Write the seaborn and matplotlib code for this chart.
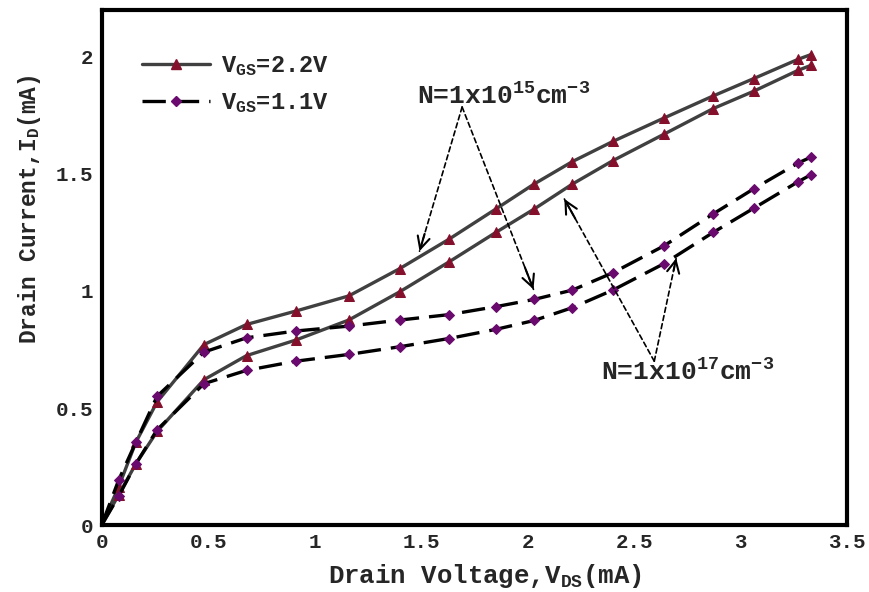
import numpy as np
import pandas as pd
import seaborn as sns
import matplotlib
matplotlib.use('Agg')
import matplotlib.pyplot as plt
from matplotlib.lines import Line2D

# drain voltage (V) sample points shared by all curves
vds = [0, 0.08, 0.16, 0.26, 0.48, 0.68, 0.91, 1.16, 1.40, 1.63, 1.85,
       2.03, 2.21, 2.40, 2.64, 2.87, 3.06, 3.27, 3.33]

# drain current (mA)
id_22_n15 = [0, 0.164, 0.353, 0.526, 0.771, 0.857, 0.914, 0.979, 1.096, 1.221,
             1.350, 1.457, 1.553, 1.639, 1.739, 1.833, 1.907, 1.990, 2.010]
id_22_n17 = [0, 0.130, 0.261, 0.400, 0.621, 0.724, 0.790, 0.876, 0.997, 1.124,
             1.250, 1.350, 1.457, 1.557, 1.670, 1.779, 1.853, 1.943, 1.964]
id_11_n15 = [0, 0.193, 0.353, 0.550, 0.739, 0.800, 0.829, 0.850, 0.876, 0.899,
             0.933, 0.964, 1.004, 1.078, 1.193, 1.329, 1.436, 1.547, 1.572]
id_11_n17 = [0, 0.124, 0.261, 0.407, 0.604, 0.661, 0.700, 0.729, 0.762, 0.797,
             0.836, 0.874, 0.929, 1.004, 1.117, 1.250, 1.353, 1.467, 1.497]

x_ticks = [0, 0.5, 1, 1.5, 2, 2.5, 3, 3.5]
x_ticklabels = ['0', '0.5', '1', '1.5', '2', '2.5', '3', '3.5']
y_ticks = [0, 0.5, 1, 1.5, 2]
y_ticklabels = ['0', '0.5', '1', '1.5', '2']

legend_labels = [r'V$_\mathregular{GS}$=2.2V', r'V$_\mathregular{GS}$=1.1V']

#--------------------------------------------------------------------------------------------------

def dashed_arrow(ax, head, tail):
    '''
    Dashed shaft from tail to head, with a solid open arrow head.
    '''
    ax.annotate('', xy=head, xytext=tail,
                arrowprops=dict(arrowstyle='-', linestyle=(0, (3, 2)), lw=1.2,
                                color='black', shrinkA=0, shrinkB=0))
    back = (head[0] + (tail[0] - head[0]) * 0.12, head[1] + (tail[1] - head[1]) * 0.12)
    ax.annotate('', xy=head, xytext=back,
                arrowprops=dict(arrowstyle='->', lw=1.5, color='black',
                                mutation_scale=22, shrinkA=0, shrinkB=0))

#--------------------------------------------------------------------------------------------------

sns.set_style('white')
plt.rcParams['font.family'] = ['Liberation Mono', 'DejaVu Sans']
plt.rcParams['font.weight'] = 'bold'
plt.rcParams['mathtext.fontset'] = 'custom'
plt.rcParams['mathtext.rm'] = 'Liberation Mono:bold'
plt.rcParams['mathtext.bf'] = 'Liberation Mono:bold'
plt.rcParams['mathtext.it'] = 'Liberation Mono:bold'
plt.rcParams['mathtext.default'] = 'regular'

fig = plt.figure(figsize=(8.69, 5.92), dpi=100)
ax = fig.add_axes([0.117, 0.113, 0.858, 0.870])

solid_col = '#404040'
tri_col = '#85102c'
dash_col = '#000000'
dia_col = '#6a0a6e'

for y in [id_22_n15, id_22_n17]:
    sns.lineplot(x=vds, y=y, ax=ax, color=solid_col, lw=2.4, marker='^',
                 markersize=6.5, markerfacecolor=tri_col, markeredgecolor=tri_col,
                 markevery=list(range(1, len(vds))), sort=False)

for y in [id_11_n15, id_11_n17]:
    sns.lineplot(x=vds, y=y, ax=ax, color=dash_col, lw=2.4, marker='D',
                 markersize=5.2, markerfacecolor=dia_col, markeredgecolor=dia_col,
                 markevery=list(range(1, len(vds))), dashes=False, sort=False)
    ax.lines[-1].set_dashes((7, 3))

ax.set_xlim(0, 3.5)
ax.set_ylim(0, 2.2)
ax.set_xticks(x_ticks)
ax.set_xticklabels(x_ticklabels)
ax.set_yticks(y_ticks)
ax.set_yticklabels(y_ticklabels)
ax.set_xticks(np.arange(0.25, 3.5, 0.5), minor=True)
ax.set_yticks(np.arange(0.25, 2.2, 0.5), minor=True)
ax.tick_params(axis='both', which='both', direction='in', top=False, right=False,
               labelsize=15, width=1.5, pad=6)
ax.tick_params(which='major', length=10)
ax.tick_params(which='minor', length=7)
for s in ax.spines.values():
    s.set_linewidth(3)
    s.set_color('black')

ax.set_xlabel(r'Drain Voltage,V$_\mathregular{DS}$(mA)', fontsize=18.5, fontweight='bold')
ax.set_ylabel(r'Drain Current,I$_\mathregular{D}$(mA)', fontsize=16.5, fontweight='bold')
ax.xaxis.set_label_coords(0.514, -0.072)
ax.yaxis.set_label_coords(-0.079, 0.614)

handles = [
    Line2D([0, 0.5, 1], [0, 0, 0], color=solid_col, lw=2.4, marker='^', markersize=6.5,
           markerfacecolor=tri_col, markeredgecolor=tri_col, markevery=[1]),
    Line2D([0, 0.5, 1], [0, 0, 0], color=dash_col, lw=2.4, marker='D', markersize=5.2,
           dashes=(7, 3), markerfacecolor=dia_col, markeredgecolor=dia_col, markevery=[1]),
]
ax.legend(handles, legend_labels, loc='upper left', frameon=False, fontsize=17,
          handlelength=2.9, handletextpad=0.45, labelspacing=0.55,
          bbox_to_anchor=(0.025, 0.955))

# doping annotations
ax.text(1.886, 1.835, r'N=1x10$^{15}$cm$^{-3}$', fontsize=19, fontweight='bold',
        ha='center', va='center')
dashed_arrow(ax, (1.492, 1.170), (1.692, 1.786))
dashed_arrow(ax, (2.027, 1.007), (1.692, 1.786))

ax.text(2.749, 0.656, r'N=1x10$^{17}$cm$^{-3}$', fontsize=19, fontweight='bold',
        ha='center', va='center')
dashed_arrow(ax, (2.172, 1.393), (2.594, 0.70))
dashed_arrow(ax, (2.697, 1.140), (2.594, 0.70))

plt.savefig('out.png', dpi=100)
